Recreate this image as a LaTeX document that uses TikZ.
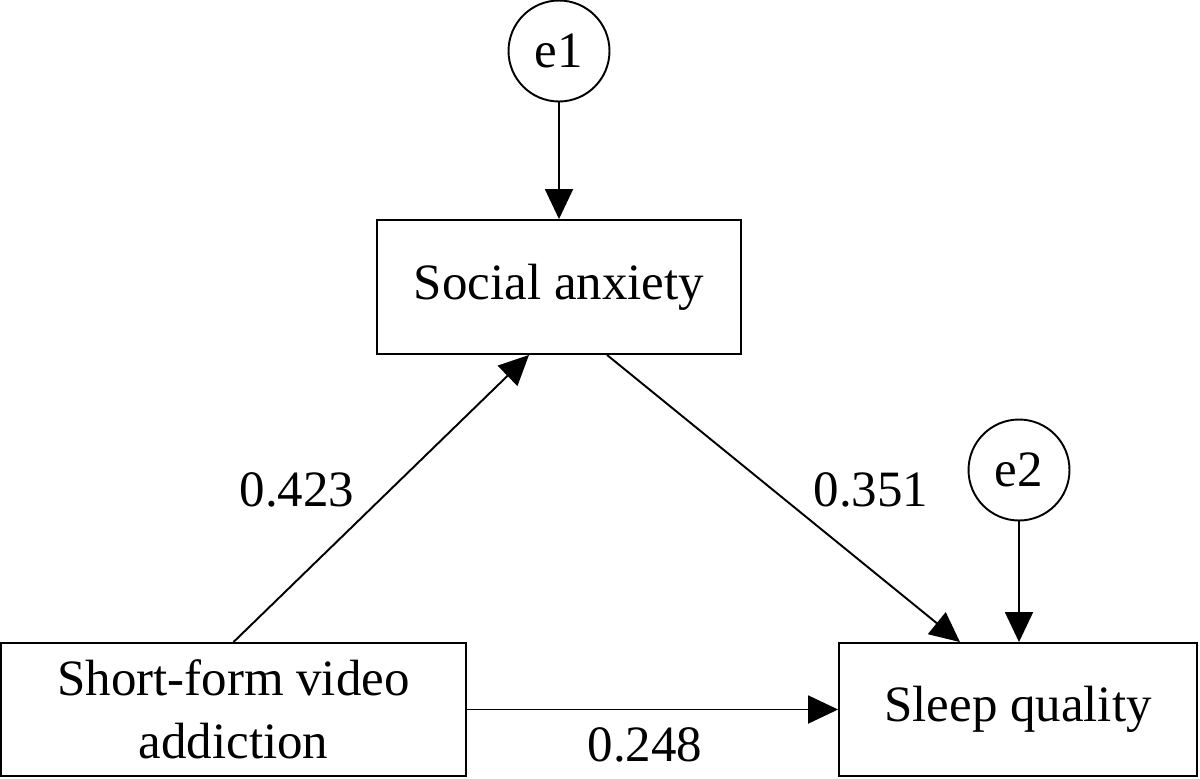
\documentclass[tikz,border=0pt]{standalone}
\usepackage{fontspec}
\setmainfont{Liberation Serif}
\usetikzlibrary{arrows.meta,calc}
\begin{document}
\begin{tikzpicture}[x=0.02cm,y=-0.02cm,
  every node/.style={font=\fontsize{29}{36}\selectfont},
  varbox/.style={draw,line width=1.1pt,rectangle,inner sep=0pt,align=center},
  errcirc/.style={draw,line width=1.1pt,circle,inner sep=0pt,minimum size=2.02cm},
  coef/.style={inner sep=0pt},
  path/.style={line width=1.1pt,-{Triangle[length=0.6cm,width=0.56cm]}}]
\useasboundingbox (0,0) rectangle (1200,778);
\node[errcirc] (e1) at (559,51) {e1};
\node[errcirc] (e2) at (1019,470) {e2};
\node[varbox,minimum width=7.28cm,minimum height=2.68cm] (SA) at (559,287) {Social anxiety};
\node[varbox,minimum width=9.3cm,minimum height=2.66cm] (SFVA) at (233.5,709.5) {Short-form video\\addiction};
\node[varbox,minimum width=7.16cm,minimum height=2.66cm] (SQ) at (1018,709.5) {Sleep quality};
\node[coef] (c1) at (297,490) {0.423};
\node[coef] (c2) at (871,490) {0.351};
\node[coef] (c3) at (645,745) {0.248};
\draw[path] (e1.south) -- (e1.south |- SA.north);
\draw[path] (e2.south) -- (e2.south |- SQ.north);
\draw[path] (SFVA.north) -- ($(SA.south)+(-30,0)$);
\draw[path] ($(SA.south)+(48,0)$) -- ($(SQ.north)+(-58,0)$);
\draw[path] (SFVA.east) -- (SQ.west);
\end{tikzpicture}
\end{document}
